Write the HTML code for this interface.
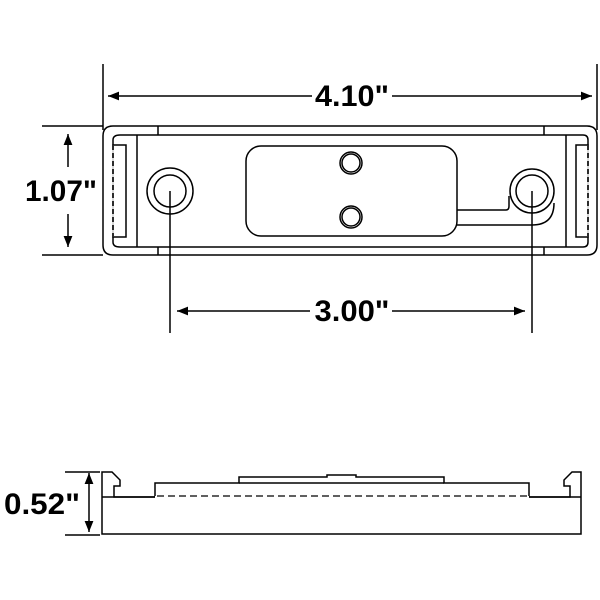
<!DOCTYPE html>
<html><head><meta charset="utf-8"><style>html,body{margin:0;padding:0;background:#fff}svg{display:block}</style></head>
<body>
<svg width="600" height="600" viewBox="0 0 600 600" xmlns="http://www.w3.org/2000/svg">
<defs>
<marker id="a" viewBox="0 0 10 10" refX="10" refY="5" markerWidth="11" markerHeight="11" markerUnits="userSpaceOnUse" orient="auto-start-reverse"><path d="M0,1 L10,5 L0,9 z" fill="#000"/></marker>
</defs>
<g fill="none" stroke="#000" stroke-width="1.5">
<line x1="103" y1="64" x2="103" y2="130"/>
<line x1="597" y1="64" x2="597" y2="130"/>
<line x1="108" y1="96" x2="312" y2="96" marker-start="url(#a)"/>
<line x1="392" y1="96" x2="592" y2="96" marker-end="url(#a)"/>
<line x1="42" y1="126" x2="103" y2="126"/>
<line x1="42" y1="255" x2="103" y2="255"/>
<line x1="68" y1="134" x2="68" y2="167" marker-start="url(#a)"/>
<line x1="68" y1="214" x2="68" y2="247" marker-end="url(#a)"/>
<path d="M113,126 H587 Q597,126 597,136 V245 Q597,255 587,255 H113 Q103,255 103,245 V136 Q103,126 113,126 Z"/>
<path d="M120,135 H583 Q588,135 588,140 V242 Q588,247 583,247 H120 Q113,247 113,242 V140 Q113,135 120,135 Z"/>
<line x1="137" y1="135" x2="137" y2="247"/>
<line x1="566" y1="135" x2="566" y2="247"/>
<line x1="158" y1="126" x2="158" y2="135"/>
<line x1="158" y1="247" x2="158" y2="255"/>
<line x1="544" y1="126" x2="544" y2="135"/>
<line x1="544" y1="247" x2="544" y2="255"/>
<rect x="113" y="145" width="13" height="92"/>
<rect x="576" y="145" width="12" height="92"/>
<line x1="113" y1="145" x2="113" y2="237" stroke="#fff" stroke-width="1.6"/>
<line x1="113" y1="145" x2="113" y2="237" stroke-dasharray="5,3"/>
<line x1="588" y1="145" x2="588" y2="237" stroke="#fff" stroke-width="1.6"/>
<line x1="588" y1="145" x2="588" y2="237" stroke-dasharray="5,3"/>
<circle cx="170" cy="191" r="23"/>
<circle cx="170" cy="191" r="16"/>
<circle cx="532" cy="191" r="22"/>
<circle cx="532" cy="191" r="16"/>
<rect x="246" y="146" width="211" height="90" rx="15"/>
<circle cx="351" cy="163" r="11"/><circle cx="351" cy="163" r="9"/>
<circle cx="351" cy="217" r="11"/><circle cx="351" cy="217" r="9"/>
<path d="M457,210 H506 Q509,210 509,206 V196"/>
<path d="M457,225 H532 Q554,225 554,203"/>
<line x1="170" y1="191" x2="170" y2="333"/>
<line x1="532" y1="191" x2="532" y2="333"/>
<line x1="177" y1="311" x2="310" y2="311" marker-start="url(#a)"/>
<line x1="392" y1="311" x2="525" y2="311" marker-end="url(#a)"/>
<line x1="65" y1="472" x2="100" y2="472"/>
<line x1="65" y1="535" x2="100" y2="535"/>
<line x1="89" y1="473" x2="89" y2="532" marker-start="url(#a)" marker-end="url(#a)"/>
<path d="M102,534 V472 H112 L120,480 V486 L114,486 V497 H155 V483 H239 V477 H327 V475 H356 V477 H444 V483 H529 V497 H570 V486 L564,486 V480 L572,472 H581 V534 Z"/>
<line x1="239" y1="483" x2="444" y2="483"/>
<line x1="155" y1="497" x2="529" y2="497" stroke="#fff" stroke-width="2"/>
<line x1="157" y1="496" x2="527" y2="496" stroke-dasharray="7,4" stroke-width="1.2"/>
<line x1="102" y1="497" x2="155" y2="497"/>
<line x1="529" y1="497" x2="581" y2="497"/>
</g>
<g font-family="Liberation Sans, sans-serif" font-weight="bold" font-size="30" fill="#000" text-anchor="middle">
<text x="352" y="106" textLength="74" lengthAdjust="spacingAndGlyphs">4.10"</text>
<text x="61" y="201" textLength="72" lengthAdjust="spacingAndGlyphs">1.07"</text>
<text x="352" y="321" textLength="75" lengthAdjust="spacingAndGlyphs">3.00"</text>
<text x="42" y="514" textLength="76" lengthAdjust="spacingAndGlyphs">0.52"</text>
</g>
</svg>
</body></html>
